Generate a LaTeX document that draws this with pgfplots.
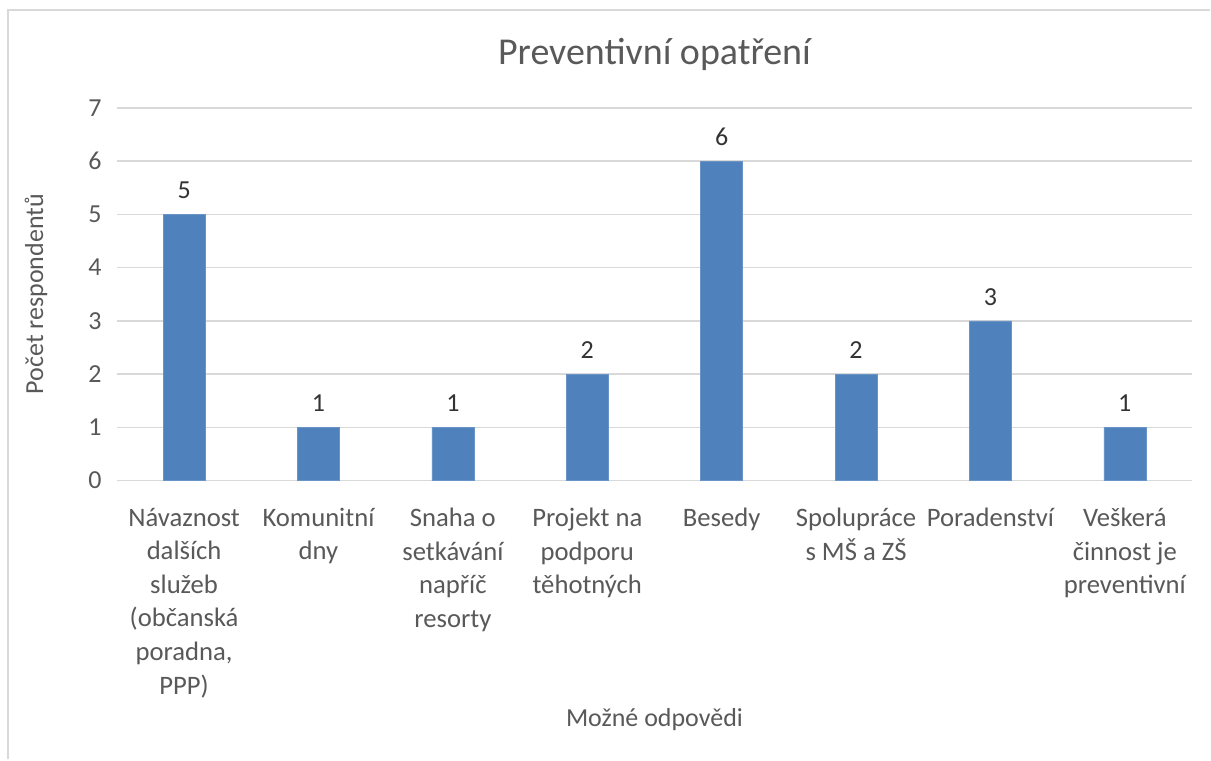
\documentclass[border=0pt]{standalone}
\usepackage{pgfplots}
\pgfplotsset{compat=1.18}
\usepackage{fontspec}
\setmainfont{Carlito}
\definecolor{barblue}{HTML}{4F81BD}
\definecolor{gridgray}{HTML}{D9D9D9}
\definecolor{txtgray}{HTML}{595959}
\begin{document}
\begin{tikzpicture}[x=0.75pt,y=0.75pt]
\fill[white] (0,0) rectangle (1211,760);
\draw[gridgray, line width=1.5pt] (8.5,0) -- (8.5,749.5) -- (1211,749.5);
\begin{axis}[
  at={(117*0.75pt,279*0.75pt)}, anchor=south west,
  scale only axis, width=807pt, height=279.75pt,
  ymin=0, ymax=7, ytick={0,...,7},
  xmin=-0.5, xmax=7.5, xtick={0,...,7},
  xticklabels={{Návaznost\\dalších\\služeb\\(občanská\\poradna,\\PPP)},{Komunitní\\dny},{Snaha o\\setkávání\\napříč\\resorty},{Projekt na\\podporu\\těhotných},{Besedy},{Spolupráce\\s MŠ a ZŠ},{Poradenství},{Veškerá\\činnost je\\preventivní}},
  xticklabel style={align=center, font=\fontsize{20}{25.2}\selectfont, text=txtgray, anchor=north, yshift=-17pt},
  yticklabel style={font=\fontsize{19.5}{23}\selectfont, text=txtgray, xshift=-8pt},
  /pgf/number format/assume math mode=true,
  major tick length=0pt,
  ymajorgrids, grid style={gridgray, line width=1pt},
  axis line style={draw=none},
  axis x line*=bottom, axis y line*=left,
  separate axis lines,
  x axis line style={draw=gridgray, line width=1pt},
  ybar, bar width=31.5pt,
  nodes near coords,
  nodes near coords style={font=\fontsize{19.5}{23}\selectfont, text=black!80, yshift=8pt},
  ylabel={Počet respondentů},
  ylabel style={font=\fontsize{19.5}{23}\selectfont, text=txtgray, at={(axis description cs:-0.0753,0.5)}, anchor=center, rotate=0},
  xlabel={Možné odpovědi},
  xlabel style={font=\fontsize{19.5}{23}\selectfont, text=txtgray, at={(axis description cs:0.5,0)}, anchor=center, yshift=-179pt},
  title={Preventivní opatření},
  title style={font=\fontsize{28.5}{33}\selectfont, text=txtgray, at={(axis description cs:0.5,1)}, anchor=center, yshift=34.5pt},
  clip=false,
]
\addplot[fill=barblue, draw=barblue!85!white] coordinates {(0,5) (1,1) (2,1) (3,2) (4,6) (5,2) (6,3) (7,1)};
\end{axis}
\end{tikzpicture}
\end{document}
